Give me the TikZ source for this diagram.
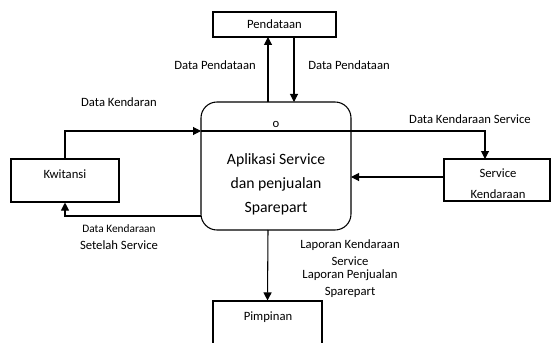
\documentclass[tikz,border=0pt]{standalone}
\usepackage{fontspec}
\setmainfont{Carlito}
\usetikzlibrary{arrows.meta}
\begin{document}
\begin{tikzpicture}[x=0.75pt,y=-0.75pt,
  ent/.style={draw,line width=0.8pt,inner sep=0pt},
  flow/.style={line width=0.8pt,-{Triangle[length=6pt,width=6pt]}},
  lbl/.style={font=\fontsize{9.5}{11}\selectfont,inner sep=0pt},
  every node/.style={text=black}]
\useasboundingbox[fill=white] (0,0) rectangle (552,342);
% entities
\node[ent,minimum width=123*0.75pt,minimum height=25*0.75pt] (pend) at (274.5,24.5) {};
\node[lbl] (pendt) at (274.5,24.5) {Pendataan};
\node[ent,minimum width=108*0.75pt,minimum height=43*0.75pt] (kw) at (65,180.5) {};
\node[lbl] (kwt) at (65,174) {Kwitansi};
\node[ent,minimum width=106*0.75pt,minimum height=42*0.75pt] (svc) at (497,180) {};
\node[lbl] (svct1) at (498,173) {Service};
\node[lbl] (svct2) at (498,194) {Kendaraan};
\node[ent,minimum width=109*0.75pt,minimum height=60*0.75pt] (pim) at (267.5,331) {};
\node[lbl] (pimt) at (268,317) {Pimpinan};
% process
\node[ent,rounded corners=12pt,minimum width=150*0.75pt,minimum height=128*0.75pt] (app) at (276,166) {};
\coordinate (divL) at (201,131);
\coordinate (divR) at (360,131);
\draw[line width=0.8pt] (divL) -- (divR);
\node[lbl] (o) at (276,124) {o};
\node[font=\fontsize{11.8}{18}\selectfont,align=center,inner sep=0pt] (appt) at (276,184.5) {Aplikasi Service\\dan penjualan\\Sparepart};
% flows
\draw[flow] (268,102) -- (268,37);
\draw[flow] (294,37) -- (294,102);
\node[lbl] (l1) at (215,65) {Data Pendataan};
\node[lbl] (l2) at (349,65) {Data Pendataan};
\coordinate (kwup) at (65,131);
\draw[flow] (kw.north) -- (kwup) -- (divL);
\node[lbl] (l3) at (119,102) {Data Kendaran};
\coordinate (svcc) at (485,131);
\draw[flow] (divR) -- (svcc) -- (485,159);
\node[lbl] (l4) at (470,119) {Data Kendaraan Service};
\draw[flow] (444,177) -- (351,177);
\coordinate (retc) at (65,216);
\draw[flow] (201,216) -- (retc) -- (kw.south);
\node[lbl,font=\fontsize{8.5}{10}\selectfont] (l5) at (119,229) {Data Kendaraan};
\node[lbl] (l6) at (119,245) {Setelah Service};
\draw[flow] (268,230) -- (pim.north);
\node[lbl] (l7) at (350,245) {Laporan Kendaraan};
\node[lbl] (l8) at (350,261) {Service};
\node[lbl] (l9) at (350,275) {Laporan Penjualan};
\node[lbl] (l10) at (350,292) {Sparepart};
\end{tikzpicture}
\end{document}
